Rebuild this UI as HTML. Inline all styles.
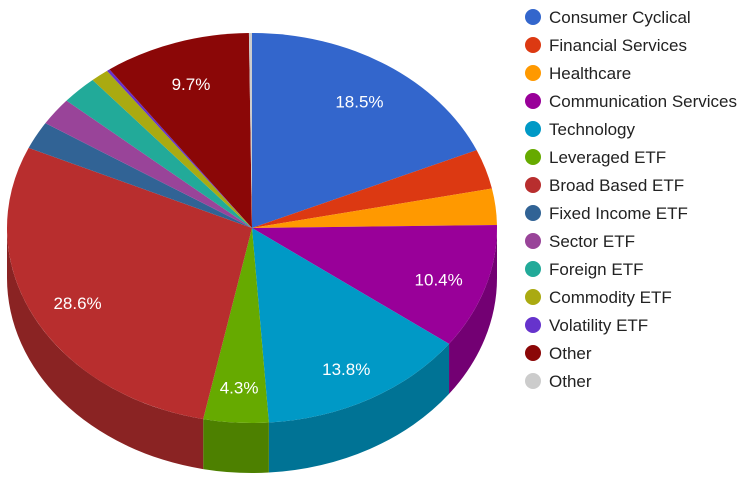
<!DOCTYPE html>
<html><head><meta charset="utf-8"><style>
body{margin:0;background:#fff;font-family:"Liberation Sans",Arial,sans-serif}
svg{display:block}
</style></head><body>
<svg id="c" width="750" height="485" viewBox="0 0 750 485">
<g id="sides"></g>
<g id="tops"></g>
<g id="labels"></g>
<g id="legend"></g>
</svg>
<script>
const categories=["Consumer Cyclical","Financial Services","Healthcare","Communication Services","Technology","Leveraged ETF","Broad Based ETF","Fixed Income ETF","Sector ETF","Foreign ETF","Commodity ETF","Volatility ETF","Other","Other"];
const values=[18.5,3.3,3.0,10.4,13.8,4.3,28.6,2.3,2.3,2.4,1.2,0.2,9.7,0.2];
const colors=["#3366cc","#dc3912","#ff9900","#990099","#0099c6","#66aa00","#b82e2e","#316395","#994499","#22aa99","#aaaa11","#6633cc","#8b0707","#cccccc"];
const NS="http://www.w3.org/2000/svg";
const cx=252,cy=228,rx=245,ry=195,depth=50;
function dark(h){const n=parseInt(h.slice(1),16);const f=0.75;
return "rgb("+Math.round((n>>16&255)*f)+","+Math.round((n>>8&255)*f)+","+Math.round((n&255)*f)+")";}
function px(t){return cx+rx*Math.sin(t);} function py(t){return cy-ry*Math.cos(t);}
const total=values.reduce((a,b)=>a+b,0);
let acc=0;
const sides=document.getElementById('sides'),tops=document.getElementById('tops'),labels=document.getElementById('labels'),legend=document.getElementById('legend');
values.forEach((v,i)=>{
  const s=acc/total*2*Math.PI; acc+=v; const e=acc/total*2*Math.PI;
  const a=Math.max(s,Math.PI/2), b=Math.min(e,3*Math.PI/2);
  if(a<b){
    const lg=(b-a)>Math.PI?1:0;
    const p=document.createElementNS(NS,'path');
    p.setAttribute('d',`M${px(a)},${py(a)} A${rx},${ry} 0 ${lg} 1 ${px(b)},${py(b)} L${px(b)},${py(b)+depth} A${rx},${ry} 0 ${lg} 0 ${px(a)},${py(a)+depth} Z`);
    p.setAttribute('fill',dark(colors[i]));
    
    
    sides.appendChild(p);
  }
  const lg=(e-s)>Math.PI?1:0;
  const t=document.createElementNS(NS,'path');
  t.setAttribute('d',`M${cx},${cy} L${px(s)},${py(s)} A${rx},${ry} 0 ${lg} 1 ${px(e)},${py(e)} Z`);
  t.setAttribute('fill',colors[i]);
  
  
  tops.appendChild(t);
  if(v/total>=0.04){
    const m=(s+e)/2;
    const tx=document.createElementNS(NS,'text');
    tx.setAttribute('x',cx+rx*0.8*Math.sin(m));
    tx.setAttribute('y',cy-ry*0.8*Math.cos(m)+6+4);
    tx.setAttribute('text-anchor','middle');
    tx.setAttribute('fill','#fff');
    tx.setAttribute('font-size','17');
    tx.textContent=v.toFixed(1)+'%';
    
    
    labels.appendChild(tx);
  }
  const c=document.createElementNS(NS,'circle');
  c.setAttribute('cx',533);c.setAttribute('cy',17+i*28);c.setAttribute('r',8);c.setAttribute('fill',colors[i]);
  
  
  legend.appendChild(c);
  const lt=document.createElementNS(NS,'text');
  lt.setAttribute('x',549);lt.setAttribute('y',23+i*28);lt.setAttribute('font-size','17');lt.setAttribute('fill','#222');
  lt.textContent=categories[i];
  
  
  legend.appendChild(lt);
});
</script>
</body></html>
